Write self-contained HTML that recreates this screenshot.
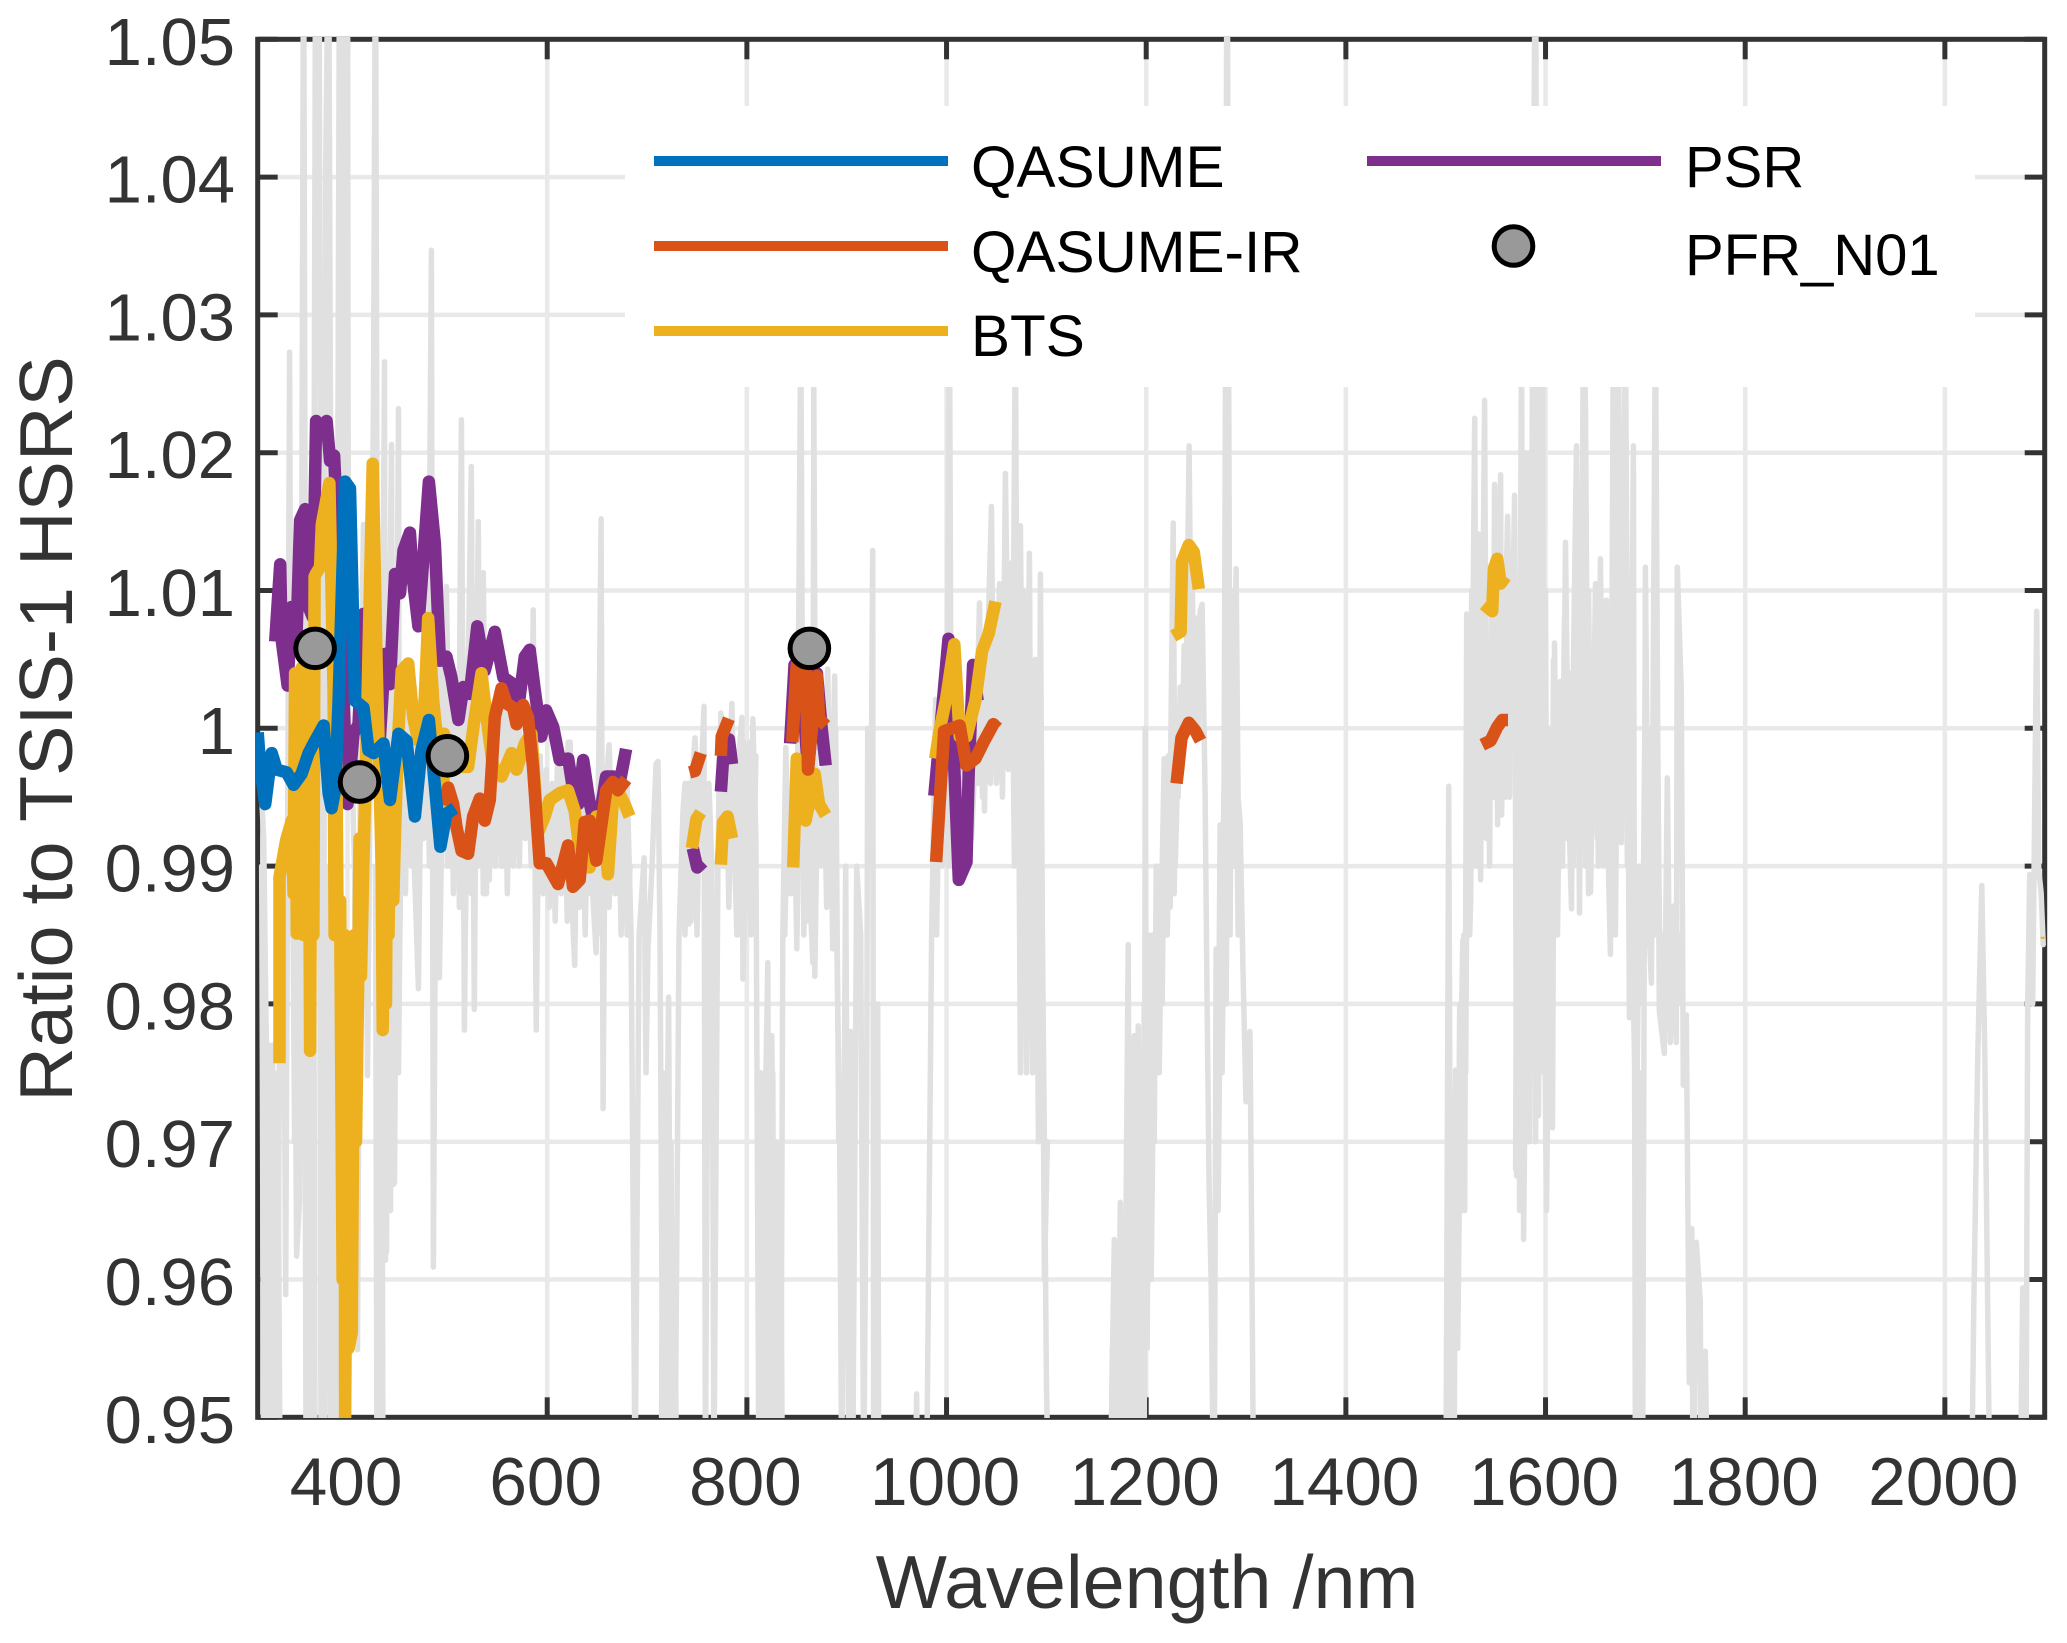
<!DOCTYPE html>
<html lang="en">
<head>
<meta charset="utf-8">
<title>Ratio to TSIS-1 HSRS</title>
<style>
html,body{margin:0;padding:0;background:#fff;}
svg{display:block;font-family:"Liberation Sans",Arial,sans-serif;}
</style>
</head>
<body>
<svg id="chart" xmlns="http://www.w3.org/2000/svg" width="2067" height="1643" viewBox="0 0 2067 1643">
  <defs><clipPath id="plot-clip"><rect x="256" y="37" width="1791" height="1381"/></clipPath></defs>
  <rect x="0" y="0" width="2067" height="1643" fill="#fff"/>
  <g id="grid"></g>
  <g id="axes"></g>
  <g id="marks" clip-path="url(#plot-clip)"></g>
  <g>
    <rect x="625" y="106" width="1350" height="281" fill="#fff"/>
    <rect x="654" y="156" width="294" height="10" fill="#0072BD"/>
    <text x="971" y="187" font-size="58.5" fill="#000">QASUME</text>
    <rect x="654" y="241" width="294" height="10" fill="#D95319"/>
    <text x="971" y="272" font-size="58.5" fill="#000">QASUME-IR</text>
    <rect x="654" y="326" width="294" height="10" fill="#EDB120"/>
    <text x="971" y="356" font-size="58.5" fill="#000">BTS</text>
    <rect x="1367" y="156" width="294" height="10" fill="#7E2F8E"/>
    <text x="1685" y="187" font-size="58" fill="#000">PSR</text>
    <circle cx="1513.5" cy="246" r="19.3" fill="#999" stroke="#000" stroke-width="5"/>
    <text x="1685" y="275" font-size="58" fill="#000">PFR_N01</text>
  </g>
  <text x="1147" y="1608" font-size="75.5" fill="#333" text-anchor="middle">Wavelength /nm</text>
  <text transform="translate(72,729) rotate(-90)" font-size="75.5" fill="#333" text-anchor="middle">Ratio to TSIS-1 HSRS</text>
</svg>
<script>
const xTicks = [400,600,800,1000,1200,1400,1600,1800,2000];
const xTickLabels = ['400','600','800','1000','1200','1400','1600','1800','2000'];
const yTicks = [0.95,0.96,0.97,0.98,0.99,1,1.01,1.02,1.03,1.04,1.05];
const yTickLabels = ['0.95','0.96','0.97','0.98','0.99','1','1.01','1.02','1.03','1.04','1.05'];

const spectrumNm = [
312,316,319,321,322,323.5,325,326,328,330,
333,336,338,342,344,346,349,352,354,356,
358,359,361,364,368,371.5,373,375,378,381,
384,386,389,392,394,396,398,400,401,404,
407,410,413,416,418,420,423,426,428,430,
432,434,437,438,441,444,446,449,451,452,
455,458,462,466,471,474,478,481,484,486,
489,492,496,499,503,507,511,514,517,520,
524,527,529,531,533,536,539,543,547,552,
556,561,566,571,576,580,584,586,589,592,
596,601,606,611,616,621,625,627.5,630,635,
640,644,649,652,654,656,658,662,666,671,
675,680,684,688,692,697,699,701,705,709,
711,713,716,721.6,724,728,732,736,738,742,
745,748,751,754,757,758.5,762,765,767,771,
774,777,781,785,788,790,792,795,796,800,
804,806,809,812,821,823,825,829,834,836,
839,842,845,850,854,856,857,860,866,867,
869,872,876,881,884,888,890,893,895,899,
902,904,906,910,914,917,920,921,924,926,
927,931,932,968,970,972,978,980,985,989,
992,996,1000,1003,1005,1010,1015,1020,1025,1030,
1033,1036,1040,1045,1047,1050,1053,1056,1059,1062,
1066,1069,1071,1074,1077,1079,1081,1083,1085,1086,
1089,1092,1094,1096,1098,1100,1103,1163,1168,1170,
1174,1177,1182,1184,1188,1190,1192,1195,1198,1199,
1201,1203,1205,1208,1211,1213,1216,1218,1221,1224,
1227,1229,1232,1235,1238,1240,1243,1245,1248,1251,
1254,1256,1259,1261,1263,1265,1268,1270,1272,1274,
1276,1278,1281,1284,1286,1290,1292,1294,1297,1300,
1304,1306,1308,1500,1503,1506,1510,1512,1515,1517,
1519,1521,1524,1525,1529,1531,1533,1535,1539,1541,
1544,1547,1549,1552,1555,1556,1559,1562,1565,1569,
1571,1573,1576,1578,1581,1584,1587,1590,1593,1595,
1597,1599,1601,1604,1607,1609,1612,1615,1617,1620,
1623,1626,1628,1631,1634,1638,1640,1643,1645,1648,
1650,1653,1655,1658,1661,1663,1665,1668,1671,1673,
1676,1680,1684,1688,1690,1694,1697,1700,1703,1706,
1710,1714,1719,1722,1725,1728,1731,1732,1736,1738,
1741,1744,1746.5,1748,1751,1755,1756,1760,1763,2026,
2029,2033,2037,2040,2045.7,2075,2078,2081,2083,2085,
2088,2092,2094,2096.4,2098.5
];
const spectrumRatio = [
.998,.992,.975,.945,.977,.945,.977,.945,.972,.956,
.990,.985,.9589,1.0273,.985,.998,.9617,.9659,1.01,1.06,
1.0,.945,.998,.945,1.06,1.06,1.0,.945,1.04,1.06,
1.0,.945,.99,1.06,1.01,1.06,1.0,1.06,1.0,.998,
.99,.9549,1.0,1.0148,.995,.9748,1.0,1.024,1.06,1.0,
.945,.99,1.0266,.9614,1.0,1.0206,.9669,1.0,1.0232,.9832,
1.0,.99,1.003,.992,.9811,1.0,.995,1.003,1.0347,.9609,
1.0,.9819,1.0,1.0103,.99,.998,.993,1.0224,.9781,1.0,
1.019,.9796,1.0,1.015,.99,1.0113,.988,.997,.992,.999,
.99,1.002,.9935,1.001,.996,1.0,.992,1.0086,.9781,.998,
.99,.995,.988,.999,.99,.999,.987,.9828,.995,.989,
.996,.99,.9837,1.0,1.0152,.9724,.995,.9988,.99,.9955,
.99,.996,.985,.945,.985,.9906,.975,.984,.99,.9974,
.9976,.985,.945,.9805,.945,.945,.985,.994,.996,.9858,
.996,.9993,.994,.996,1.0016,.945,.996,.99,.945,.99,
1.0011,.99,.995,1.0018,.99,.985,.998,1.0008,.9818,.995,
.985,1.0007,.992,.945,.983,.945,.9777,.945,.945,.985,
.9986,.99,.995,.988,1.03,.996,.985,.994,.983,1.0247,
.99,.996,.992,1.0043,.99,1.0038,.985,.97,.945,.99,
.945,.978,.945,.99,.985,.945,.9735,1.0,.99,1.0129,
.945,.98,.945,.94,.9517,.94,.94,.945,.985,1.0021,
.99,1.0,.995,1.03,.99,.995,.99,.997,.992,1.0,
1.0091,.995,1.003,1.0161,.998,1.002,1.0105,.996,1.0185,1.002,
.998,1.03,.995,1.0147,.99,.9848,1.0,1.0127,.985,.9795,
1.0,.9716,1.0112,.985,.97,.9527,.94,.94,.9629,.94,
.9656,.94,.9843,.945,.9777,.945,.9784,.96,.945,1.0,
.955,.9843,.96,.98,.9889,.975,.99,.9978,.985,.995,
1.0149,.99,.998,1.0,1.004,1.003,1.0205,1.005,1.003,1.004,
1.0085,1.009,.9953,.98,.9668,.96,.94,.984,.972,.993,
.985,.9965,1.06,.995,.9932,1.0116,.995,.9932,.9825,.9729,
.978,.96,.94,.94,.9958,.94,.9752,.955,.975,.9846,
.965,1.0083,.985,.9876,1.0225,.99,1.0141,.989,1.0238,.992,
1.005,.995,1.0177,1.002,1.0184,.9937,1.005,1.0154,1.0,1.0169,
.9675,.98,1.03,.9629,.985,.97,1.03,1.06,.9719,1.03,
1.03,.98,.965,.985,.971,1.0062,.985,1.0034,.99,1.0135,
.995,.9869,1.005,1.0205,.9866,1.03,1.0233,.988,.9881,1.0,
1.0105,.99,1.0123,.995,1.0093,.99,.9836,1.03,.995,1.03,
.9917,1.03,.979,1.0205,.945,.975,.94,1.0117,.9866,.9815,
1.03,.9795,.9764,.9964,.9772,.9871,.9772,1.0117,1.0027,.9741,
.9792,.9525,.9637,.94,.9627,.9584,.94,.9548,.94,.94,
.9581,.9764,.9886,.9764,.94,.94,.9594,.94,.98,.9894,
.98,1.0085,.9897,.9881,.9843
];

/* fine structure of the reference spectrum in the bands that read as solid grey; null marks a gap */
const spectrumDetailNm = [
314,316,318,320,322,324,326,328,330,332,null,
345,347,349,351,353,null,
357,358.5,360,361.5,363,364.5,366,367.5,null,
372,373.5,375,376.5,378,null,
381,382.5,384,385.5,387,388.5,390,391.5,null,
428,429.5,431,432.5,434,435.5,null,
437,439,441,443,445,447,449,451,453,null,
455,458,461,464,467,470,473,476,479,482,
485,488,491,494,497,500,503,506,509,512,
515,518,521,524,527,530,533,536,539,542,
545,548,551,554,557,560,563,566,569,572,
575,578,581,584,587,590,593,596,599,602,
605,608,611,614,617,620,623,626,629,632,
635,638,641,644,647,650,653,656,659,662,
665,668,671,674,677,680,683,null,
714,716,718,720,722,724,726,728,730,null,
735,738,741,744,747,750,753,null,
770,773,776,779,782,785,788,791,794,797,800,803,806,809,null,
812,814,816,818,820,822,824,826,828,830,832,834,836,null,
838,841,844,847,850,853,856,859,862,865,868,871,874,877,880,883,886,889,892,null,
990,993,996,999,1002,1005,1008,1011,1014,1017,
1020,1023,1026,1029,1032,1035,1038,1041,1044,1047,
1050,1053,1056,1059,1062,1065,1068,1071,1074,1077,
1080,1083,1086,1089,1092,1095,1098,1101,null,
1164,1166,1168,1170,1172,1174,1176,1178,1180,1182,
1184,1186,1188,1190,1192,1194,1196,1198,1200,1202,
1204,1206,1208,1210,1212,1214,1216,1218,1220,1222,
1224,1226,1228,1230,1232,1234,1236,1238,1240,1242,
1244,1246,1248,1250,1252,1254,null,
1272,1274,1276,1278,1280,1282,1284,1286,1288,1290,1292,1294,null,
1500,1502,1504,1506,1508,1510,null,
1512,1514,1516,1518,1520,1522,1524,1526,1528,1530,
1532,1534,1536,1538,1540,1542,1544,1546,1548,1550,
1552,1554,1556,1558,1560,1562,1564,1566,null,
1570,1572,1574,1576,1578,1580,1582,1584,1586,1588,
1590,1592,1594,1596,1598,1600,1602,1604,1606,1608,null,
1610,1613,1616,1619,1622,1625,1628,1631,1634,1637,
1640,1643,1646,1649,1652,1655,1658,1661,1664,1667,
1670,1673,1676,1679,1682,1685,1688,1691,1694,1697,
1700,1703,1706,1709,1712,1715,1718,1721,1724,1727,
1730,1733,1736
];
const spectrumDetailRatio = [
.99,.945,.98,.945,.96,.945,.965,.945,.975,.95,null,
.99,.97,1.0,.968,.99,null,
.99,.945,.99,.945,.99,.945,.99,.945,null,
.99,.945,.99,.945,.99,null,
.99,.945,.99,.945,.99,.945,.99,.945,null,
.99,.945,.99,.945,.99,.945,null,
.99,.962,.99,.965,.99,.967,.99,.975,.99,null,
1.002,.988,1.004,.99,1.003,.988,1.002,.992,1.004,.99,
1.003,.99,1.005,.992,1.006,.99,1.004,.988,1.004,.987,
1.006,.986,1.005,.988,1.005,.99,1.006,.988,1.0,.989,
1.0,.99,1.002,.99,1.003,.988,1.0,.99,1.002,.99,
.999,.992,.998,.99,1.0,.988,.998,.988,.997,.987,
.996,.986,.998,.988,.997,.986,.999,.986,.996,.987,
.995,.985,.996,.988,.995,.985,.998,.985,.997,.987,
.996,.988,.996,.985,.996,.985,.99,null,
.94,.975,.94,.975,.94,.97,.94,.96,.94,null,
.99,.985,.996,.986,.998,.985,.997,null,
.985,1.0,.99,.998,.987,1.0,.992,.998,.985,.999,.99,.999,.986,.998,null,
.94,.975,.94,.975,.94,.975,.94,.975,.94,.97,.94,.965,.94,null,
.985,.995,.988,.997,.984,.998,.99,.997,.986,.996,.982,.997,.99,.998,.987,1.0,.984,1.0,.97,null,
.985,.998,.99,1.002,.99,1.003,.992,1.002,.993,1.0,
.993,1.0,.995,1.003,.996,1.005,.994,1.006,.996,1.008,
.996,1.01,.995,1.01,.997,1.012,.99,1.012,.975,1.01,
.975,1.01,.975,1.005,.97,.995,.96,.97,null,
.94,.955,.94,.955,.94,.96,.94,.96,.94,.97,
.94,.97,.94,.97,.95,.975,.96,.98,.965,.985,
.965,.985,.97,.99,.975,.99,.98,.995,.985,.998,
.987,1.002,.988,1.0,.995,1.003,.997,1.006,1.0,1.01,
1.0,1.012,1.0,1.008,1.0,1.007,null,
.965,.98,.975,.99,.98,1.0,.985,1.01,.99,1.0,.985,.992,null,
.94,.97,.94,.97,.94,.97,null,
.96,.98,.965,.985,.975,1.0,.988,1.01,.99,1.012,
.99,1.012,.992,1.01,.995,1.005,.99,1.01,.995,1.01,
.993,1.012,.995,1.01,.995,1.01,.995,1.01,null,
.968,1.01,.965,1.02,.965,1.02,.97,1.02,.975,1.02,
.97,1.02,.975,1.02,.975,1.01,.975,1.0,.98,1.005,null,
.99,1.0,.99,1.008,.992,1.004,.99,1.01,.99,1.01,
.99,1.01,.992,1.005,.992,1.005,.99,1.005,.99,1.01,
.985,1.01,.995,1.01,.99,1.005,.98,.97,.99,.98,
1.005,.99,1.0,.985,1.0,.98,.985,.98,.985,.978,
.985,.985,.98
];

/* null marks a gap in a series */
const psrNm = [
327.5,332.5,334,340,344,347.5,349,352.5,357.5,361,
365,368.5,374,379,382.5,386.5,391,396,400,406,
411,416,419,432.5,437.5,442.5,447.5,452.5,456,462.5,
466,471,476,481.5,487.5,492.5,499,504,511,516,
522.5,530,537.5,547.5,556,566,571,577.5,582.5,587.5,
594,599,606,612.5,621,626,631,636,642,646.5,
652.5,659,666,672.5,679,null,745.8,750.2,756,null,
774,776.2,782,785.1,null,843.3,847.7,854.4,861.2,870.1,
874.6,879,null,987.7,993.1,1002,1006.5,1012.3,1020,1022.2,
1026.6,1031.1
];
const psrRatio = [
1.0063,1.0119,1.0064,1.0031,1.0088,1.0087,1.0069,1.0151,1.0159,1.0088,
1.0081,1.0223,1.0214,1.0223,1.0194,1.0198,1.0129,1.002,.9945,.9996,
1.0003,1.0083,1.002,.9994,1.0054,1.0032,1.0112,1.0098,1.0129,1.0142,
1.0105,1.0074,1.0124,1.0179,1.0134,1.0049,1.0052,1.0037,1.0006,1.003,
1.0025,1.0074,1.0042,1.007,1.0037,1.0032,1.0015,1.0052,1.0057,1.0028,
.9994,1.0013,1.0001,.9977,.9978,.9955,.9945,.9977,.9948,.9933,
.9936,.9965,.9965,.996,.9985,null,.9913,.9899,.9903,null,
.9954,.9978,.9992,.9974,null,.9989,1.0046,1.004,.997,1.004,
1.0002,.9973,null,.9951,.9994,1.0065,.9994,.989,.9903,.9968,
1.0046,1.002
];

const btsNm = [
331.8,331.8,338.5,344.2,346,347.5,349.2,351,352.5,354.2,
356,357.5,359.2,361,362.5,364,365.8,367,368.2,372.5,
374.2,381.8,385.8,387,388.5,390,392.5,395,397,397.5,
400,401,404.2,407,408.5,410.8,412,413.5,415.8,419.2,
425.2,429.2,434.2,435.2,437,438.5,439.2,441,443,445.8,
447.5,450.8,454.2,460.8,465.8,470.8,475.8,480.8,485.8,490.8,
495.8,496.5,509.2,520.8,527.5,534.2,539.2,545.8,554.2,564.2,
569.2,577.5,584.2,590.8,597.5,602.5,612.5,620.8,627.5,632.5,
642.5,649.2,655.8,660.8,665.8,670.8,677.5,682.5,null,744.9,
749.4,753.8,null,774,776.2,780.7,785.1,null,846.4,850,
854.4,858.9,867.9,872.3,879,null,988.6,993.1,999.8,1007.8,
1013.2,1020,1028.9,1035.6,1042.3,1049,null,1227,1234.4,1236,
1242.7,1247.7,1252.7,null,1538.3,1546.6,1548.3,1551.7,1555,1560
];
const btsRatio = [
.9757,.9892,.9919,.9933,.988,1.004,.9851,1.004,.986,1.0044,
.985,1.002,.985,1.002,.9766,1.002,.985,1.011,1.0112,1.0117,
1.0148,1.0178,1.0032,.985,1.0,.986,.9875,.96,.985,.95,
.975,.955,.9561,.985,.97,.982,.992,.982,.9899,.9996,
1.0192,1.0044,.9899,.9781,.99,.98,.9899,.985,.995,.9875,
.9924,.9996,1.0042,1.0047,1.0008,.9991,.9996,1.008,1.002,.9984,
.9943,.9996,.9972,.9972,1.0008,1.004,1.0008,.9972,.9965,.9982,
.997,.9989,.9996,.9924,.9936,.9948,.9953,.9955,.994,.9911,
.9899,.9936,.9936,.9894,.9948,.9955,.9945,.9936,null,.9913,
.9934,.9939,null,.9901,.9932,.9936,.992,null,.9899,.9978,
.9968,.9933,.9967,.9945,.9937,null,.9978,.9999,1.0022,1.0061,
.9994,.9994,1.002,1.0056,1.0069,1.0092,null,1.0067,1.007,1.0121,
1.0133,1.0128,1.0101,null,1.009,1.0085,1.0116,1.0123,1.0105,1.011
];
const btsEndNm = [2096,2100];
const btsEndRatio = [.9848,.9848];

const qasumeIrNm = [
497.5,500.8,505.8,509.2,514.2,520.8,525.8,532.5,537.5,542.5,
547.5,554.2,559.2,565.8,569.2,575.8,580.8,585.8,592.5,599.2,
610.8,620.8,625.8,632.5,637.5,642.5,649.2,659.2,665.8,670.8,
679.2,null,742.6,748,753.8,null,774,774.8,782,null,
845.5,850,858.9,861.2,870.1,872.3,879,null,989.5,997.6,
1013.2,1020,1028.9,1037.8,1046.8,1051.2,null,1230.4,1235.4,1242.7,
1249.4,1254.4,null,1536.6,1545,1551.7,1556.7,1562.4
];
const qasumeIrRatio = [
.9944,.9957,.9945,.9928,.9911,.9909,.9936,.9949,.9933,.9948,
1.0008,1.0029,1.0018,1.0015,1.0003,1.0017,1.0008,.9972,.9902,.9902,
.9887,.9915,.9885,.989,.9932,.9933,.9904,.9955,.9961,.9955,
.9963,null,.9968,.9969,.9982,null,.998,.9994,1.0007,null,
.999,1.0046,1.0046,.997,1.0038,1.0007,1.0002,null,.9903,.9998,
1.0002,.9973,.9978,.9991,1.0003,1.0,null,.996,.9993,1.0004,
.9998,.9991,null,.9988,.9991,1.0001,1.0006,1.0006
];

const qasumeNm = [
310,312.5,317.5,324,329,339,346,354,361,366,
376,381,384,387.5,391,397.5,402.5,407.5,416,421,
426,436,442.5,451,459,467.5,474,481.5,486,493,
499,507.5
];
const qasumeRatio = [
.9997,.9972,.9945,.9982,.997,.9968,.9959,.9967,.9982,.9989,
1.0002,.9953,.9942,.9955,1.002,1.0179,1.0174,1.002,1.0015,.9984,
.9982,.9989,.9948,.9996,.9991,.9936,.9984,1.0006,.997,.9914,
.9938,.9942
];

const pfrNm = [367.5,412,500,862.6];
const pfrRatio = [1.0058,.9961,.998,1.0058];

const SVG_NS = 'http://www.w3.org/2000/svg';
const X_MIN = 310, X_MAX = 2100, Y_MIN = 0.95, Y_MAX = 1.05;
const LEFT = 257.7, RIGHT = 2044.7, TOP = 39.3, BOTTOM = 1417.3;
const SERIES_WIDTH = 12.5;
function xScale(nm) { return LEFT + (nm - X_MIN) / (X_MAX - X_MIN) * (RIGHT - LEFT); }
function yScale(v) { return BOTTOM - (v - Y_MIN) / (Y_MAX - Y_MIN) * (BOTTOM - TOP); }
function make(tag, attrs, parent) {
  const el = document.createElementNS(SVG_NS, tag);
  for (const k in attrs) el.setAttribute(k, attrs[k]);
  parent.appendChild(el);
  return el;
}
function linePath(xs, ys) {
  let d = '', pen = false;
  const n = Math.min(xs.length, ys.length);
  for (let i = 0; i < n; i++) {
    if (xs[i] === null || ys[i] === null) { pen = false; continue; }
    d += (pen ? 'L' : 'M') + xScale(xs[i]).toFixed(1) + ' ' + yScale(ys[i]).toFixed(1);
    pen = true;
  }
  return d;
}
const grid = document.getElementById('grid');
const axes = document.getElementById('axes');
const marks = document.getElementById('marks');
const DARK = '#333333', GRID = '#e9e9e9';

yTicks.forEach(function (t, i) {
  const y = yScale(t);
  const g = make('line', {x1: LEFT, x2: RIGHT, y1: y, y2: y, stroke: GRID, 'stroke-width': 4.5}, grid);
  
  
  const a = make('line', {x1: LEFT, x2: LEFT + 20, y1: y, y2: y, stroke: DARK, 'stroke-width': 5}, axes);
  
  
  const b = make('line', {x1: RIGHT - 20, x2: RIGHT, y1: y, y2: y, stroke: DARK, 'stroke-width': 5}, axes);
  
  
  const lab = make('text', {x: 235, y: y + 25.5, 'font-size': 67, fill: DARK, 'text-anchor': 'end'}, axes);
  
  
  lab.textContent = yTickLabels[i];
});
xTicks.forEach(function (t, i) {
  const x = xScale(t);
  const g = make('line', {x1: x, x2: x, y1: TOP, y2: BOTTOM, stroke: GRID, 'stroke-width': 4.5}, grid);
  
  
  const a = make('line', {x1: x, x2: x, y1: BOTTOM - 20, y2: BOTTOM, stroke: DARK, 'stroke-width': 5}, axes);
  
  
  const b = make('line', {x1: x, x2: x, y1: TOP, y2: TOP + 20, stroke: DARK, 'stroke-width': 5}, axes);
  
  
  const lab = make('text', {x: x - 1.5, y: 1505, 'font-size': 67.5, fill: DARK, 'text-anchor': 'middle'}, axes);
  
  
  lab.textContent = xTickLabels[i];
});
const frame = make('rect', {x: LEFT, y: TOP, width: RIGHT - LEFT, height: BOTTOM - TOP, fill: 'none', stroke: DARK, 'stroke-width': 5}, axes);



const spectrumLine = make('path', {d: linePath(spectrumNm, spectrumRatio), fill: 'none', stroke: '#e0e0e0', 'stroke-width': 5.5, 'stroke-linejoin': 'round', 'stroke-linecap': 'round'}, marks);



const spectrumDetail = make('path', {d: linePath(spectrumDetailNm, spectrumDetailRatio), fill: 'none', stroke: '#e0e0e0', 'stroke-width': 5.5, 'stroke-linejoin': 'round', 'stroke-linecap': 'round'}, marks);



const psrLine = make('path', {d: linePath(psrNm, psrRatio), fill: 'none', stroke: '#7E2F8E', 'stroke-width': SERIES_WIDTH, 'stroke-linejoin': 'round'}, marks);



const btsLine = make('path', {d: linePath(btsNm, btsRatio), fill: 'none', stroke: '#EDB120', 'stroke-width': SERIES_WIDTH, 'stroke-linejoin': 'round'}, marks);



const btsEnd = make('path', {d: linePath(btsEndNm, btsEndRatio), fill: 'none', stroke: '#EDB120', 'stroke-width': 2}, marks);



const irLine = make('path', {d: linePath(qasumeIrNm, qasumeIrRatio), fill: 'none', stroke: '#D95319', 'stroke-width': SERIES_WIDTH, 'stroke-linejoin': 'round'}, marks);



const qasumeLine = make('path', {d: linePath(qasumeNm, qasumeRatio), fill: 'none', stroke: '#0072BD', 'stroke-width': SERIES_WIDTH, 'stroke-linejoin': 'round'}, marks);



pfrNm.forEach(function (nm, i) {
  const c = make('circle', {cx: xScale(nm), cy: yScale(pfrRatio[i]), r: 19.3, fill: '#999', stroke: '#000', 'stroke-width': 5}, marks);
  
  
});
</script>
</body>
</html>
